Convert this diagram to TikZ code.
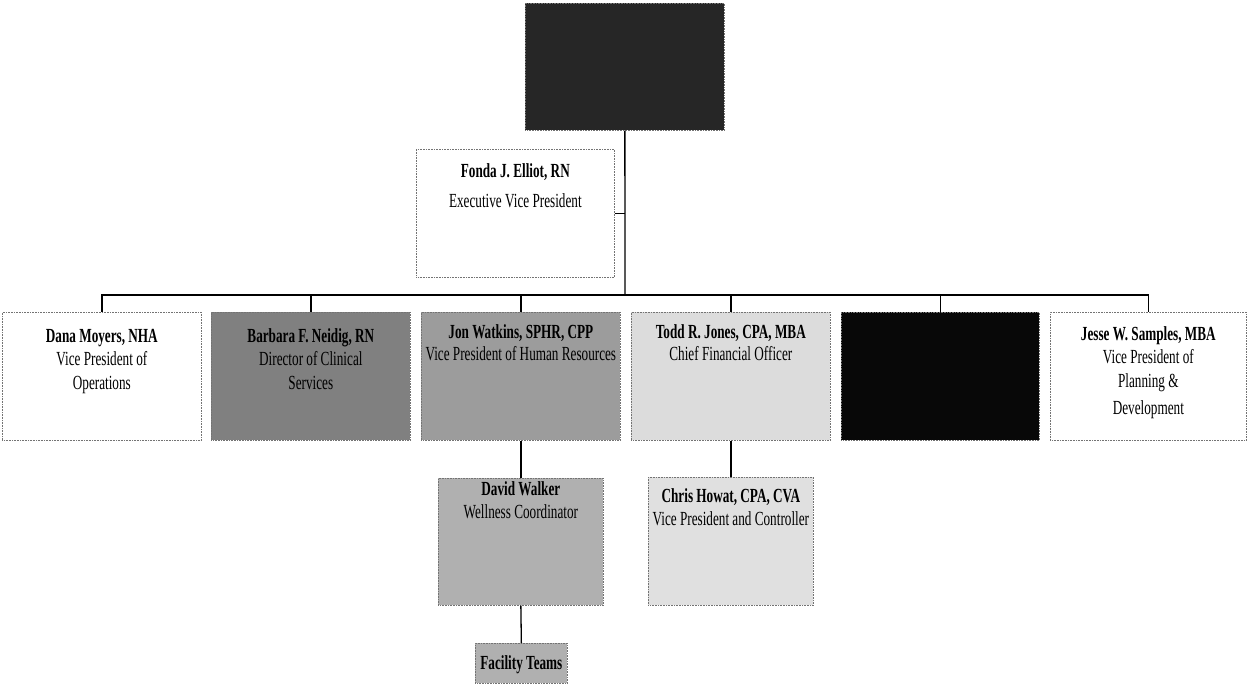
\documentclass[tikz,border=0pt]{standalone}
\usepackage{fontspec}
\setmainfont{Liberation Serif}[FakeStretch=0.66]
\definecolor{topfill}{HTML}{262626}
\definecolor{barbfill}{HTML}{808080}
\definecolor{jonfill}{HTML}{9C9C9C}
\definecolor{toddfill}{HTML}{DCDCDC}
\definecolor{davefill}{HTML}{B0B0B0}
\definecolor{chrisfill}{HTML}{E0E0E0}
\definecolor{blkfill}{HTML}{080808}
\newcommand\bxt[4]{\parbox[c][#2][t]{#1}{\centering\rule{0pt}{#3}#4}}
\tikzset{
  orgbox/.style={draw=black!55, dash pattern=on 0.8pt off 0.8pt, line width=0.7pt,
    inner sep=0pt, anchor=north west, font=\fontsize{20}{23.5}\selectfont},
  conn/.style={line width=1.3pt, draw=black}
}
\begin{document}
\begin{tikzpicture}[x=1pt,y=-1pt]
\useasboundingbox (0,0) rectangle (1247,688);
\node[orgbox, fill=topfill] (top) at (525,3) {\bxt{199pt}{127pt}{0pt}{}};
\node[orgbox, font=\fontsize{20}{30}\selectfont] (fonda) at (416,149)
  {\bxt{198pt}{128pt}{28pt}{\textbf{Fonda J. Elliot, RN}\\Executive Vice President}};
\node[orgbox] (dana) at (2,312)
  {\bxt{199pt}{128pt}{30pt}{\textbf{Dana Moyers, NHA}\\Vice President of\\Operations}};
\node[orgbox, fill=barbfill] (barb) at (211,312)
  {\bxt{199pt}{128pt}{30pt}{\textbf{Barbara F. Neidig, RN}\\Director of Clinical\\Services}};
\node[orgbox, fill=jonfill, font=\fontsize{20}{22}\selectfont] (jon) at (421,312)
  {\bxt{199pt}{128pt}{26pt}{\textbf{Jon Watkins, SPHR, CPP}\\Vice President of Human Resources}};
\node[orgbox, fill=toddfill, font=\fontsize{20}{22}\selectfont] (todd) at (631,312)
  {\bxt{199pt}{128pt}{26pt}{\textbf{Todd R. Jones, CPA, MBA}\\Chief Financial Officer}};
\node[orgbox, fill=blkfill] (blk) at (841,312) {\bxt{198pt}{128pt}{0pt}{}};
\node[orgbox] (jesse) at (1050,312)
  {\bxt{196pt}{128pt}{28pt}{\textbf{Jesse W. Samples, MBA}\\Vice President of\\Planning \&\\[4pt]Development}};
\node[orgbox, fill=davefill] (dave) at (438,478)
  {\bxt{165pt}{127pt}{17pt}{\textbf{David Walker}\\Wellness Coordinator}};
\node[orgbox, fill=chrisfill] (chris) at (648,477)
  {\bxt{165pt}{128pt}{25pt}{\textbf{Chris Howat, CPA, CVA}\\Vice President and Controller}};
\node[orgbox, fill=davefill] (fac) at (475,643)
  {\bxt{92pt}{40pt}{26pt}{\textbf{Facility Teams}}};
\coordinate (bar) at (625,295);
\draw[conn] (top.south) -- (bar);
\draw[conn] (fonda.east) -- (fonda.east -| top.south);
\draw[conn] (bar) -| (dana.north);
\draw[conn] (bar) -| (barb.north);
\draw[conn] (bar) -| (jon.north);
\draw[conn] (bar) -| (todd.north);
\draw[conn] (bar) -| (blk.north);
\draw[conn] (bar) -| (jesse.north);
\draw[conn] (jon.south) -- (dave.north);
\draw[conn] (dave.south) -- (fac.north);
\draw[conn] (todd.south) -- (chris.north);
\end{tikzpicture}
\end{document}
